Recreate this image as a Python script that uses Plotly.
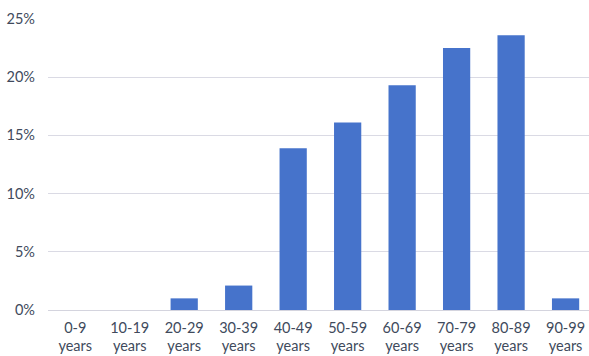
import plotly.graph_objects as go

categories = ["0-9<br>years", "10-19<br>years", "20-29<br>years", "30-39<br>years",
              "40-49<br>years", "50-59<br>years", "60-69<br>years", "70-79<br>years",
              "80-89<br>years", "90-99<br>years"]
values = [0, 0, 1.0, 2.1, 13.9, 16.1, 19.3, 22.5, 23.6, 1.0]
y_ticks = [0, 5, 10, 15, 20, 25]
y_tick_labels = ["0%", "5%", "10%", "15%", "20%", "25%"]

text_color = "#404a5c"
font_family = "Lato, 'Open Sans', sans-serif"

fig = go.Figure(go.Bar(
    x=categories,
    y=values,
    width=0.5,
    marker=dict(color="#4673cb", line=dict(width=0)),
))

fig.update_layout(
    width=589, height=356,
    margin=dict(l=48, r=0, t=19, b=46),
    paper_bgcolor="white", plot_bgcolor="white",
    showlegend=False,
    bargap=0.5,
    font=dict(family=font_family, size=14, color=text_color),
    xaxis=dict(
        range=[-0.5, 9.43],
        showgrid=False, showline=False, zeroline=False,
        ticks="", ticklabelstandoff=7,
        tickfont=dict(size=14.5, color=text_color),
    ),
    yaxis=dict(
        range=[0, 25],
        tickvals=y_ticks, ticktext=y_tick_labels,
        showgrid=True, gridcolor="#dadae4", gridwidth=1,
        zeroline=True, zerolinecolor="#d4d4de", zerolinewidth=1,
        showline=False, ticks="", ticklabelstandoff=12,
        tickfont=dict(size=14.5, color=text_color),
    ),
)

fig.write_html("out.html")
